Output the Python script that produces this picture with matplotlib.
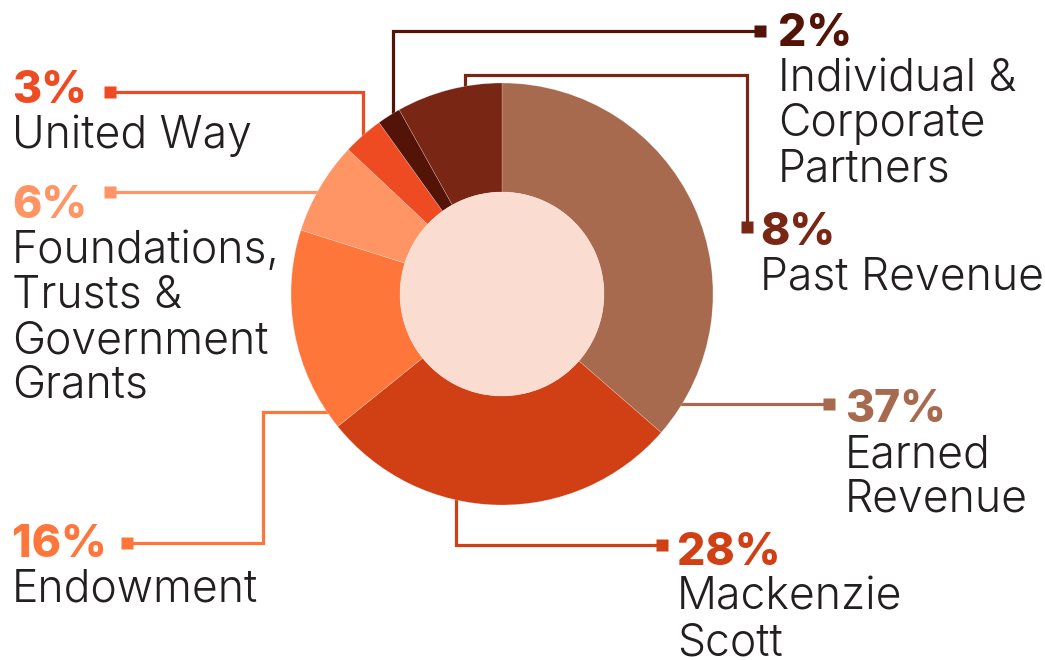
import matplotlib.pyplot as plt
from matplotlib.patches import Circle

# Revenue shares, in drawing order (clockwise from 12 o'clock)
names = ["Earned\nRevenue", "Mackenzie\nScott", "Endowment",
         "Foundations,\nTrusts &\nGovernment\nGrants", "United Way",
         "Individual &\nCorporate\nPartners", "Past Revenue"]
shares = [37, 28, 16, 6, 3, 2, 8]                      # printed labels
slice_sizes = [36.4, 27.8, 15.7, 7.1, 3.1, 1.8, 8.1]   # wedge sizes as drawn in the source
colors = ["#A86A4E", "#D13F14", "#FF763B", "#FF9465", "#EF4B23", "#541307", "#7A2615"]

# layout in pixels (y from top): label anchor (left x, baseline of the % line)
label_pos = [(845, 422), (677, 565), (12, 557), (12, 218), (12, 103), (778, 46), (760, 245)]
# leader polylines, first point is the square end
leaders = [
    [(829, 404), (680, 404)],
    [(662, 545), (456, 545), (456, 490)],
    [(127, 543), (263, 543), (263, 412), (330, 412)],
    [(110, 192), (330, 192)],
    [(110, 92), (363, 92), (363, 140)],
    [(760, 31), (393, 31), (393, 125)],
    [(747, 227), (747, 75), (465, 75), (465, 95)],
]

W, H = 1045, 660
CX, CY, R_OUT, R_IN = 502, 294, 211, 102
TEXT = "#231F20"

plt.rcParams["font.family"] = ["Inter", "DejaVu Sans"]

fig = plt.figure(figsize=(W / 100, H / 100), dpi=100)
ax = fig.add_axes([0, 0, 1, 1])

ax.pie(slice_sizes, colors=colors, center=(CX, CY), radius=R_OUT,
       startangle=-90, counterclock=True,
       wedgeprops=dict(width=R_OUT - R_IN, linewidth=0.4, edgecolor=(1, 1, 1, 0.35), zorder=2))
ax.add_patch(Circle((CX, CY), R_IN, facecolor="#FADDD0", edgecolor="none", zorder=3))

for pts, c in zip(leaders, colors):
    xs, ys = zip(*pts)
    ax.plot(xs, ys, color=c, lw=2.3, solid_joinstyle="miter", solid_capstyle="butt", zorder=1)
    ax.plot(xs[0], ys[0], marker="s", ms=8, color=c, mec="none", zorder=1)

for (x, y), name, pct, c in zip(label_pos, names, shares, colors):
    ax.text(x, y, f"{pct}%", color=c, fontsize=32, fontweight=800, va="baseline", ha="left")
    for i, line in enumerate(name.split("\n")):
        ax.text(x, y + 45 * (i + 1), line, color=TEXT, fontsize=32, fontweight=300,
                va="baseline", ha="left")

ax.set_xlim(0, W)
ax.set_ylim(H, 0)
ax.set_aspect("equal")
ax.axis("off")

fig.savefig("out.png", dpi=100)
